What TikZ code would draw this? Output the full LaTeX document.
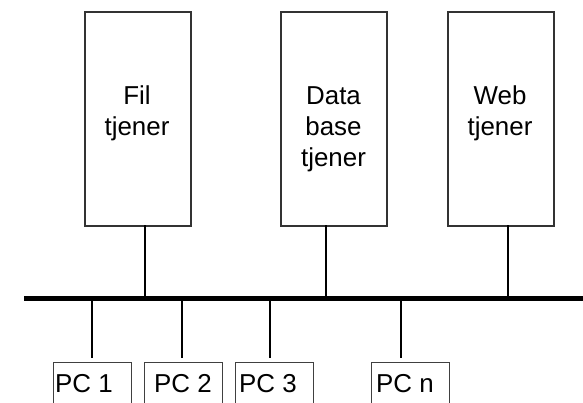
\documentclass[tikz,border=0pt]{standalone}
\usepackage{fontspec}
\setmainfont{Liberation Sans}
\begin{document}
\begin{tikzpicture}[x=1bp,y=-1bp,
  server/.style={draw=black!80, line width=1.5bp, minimum width=106bp, minimum height=214bp, inner sep=0pt, anchor=north west},
  pcbox/.style={draw=black!75, line width=1bp, minimum width=78bp, minimum height=60bp, inner sep=0pt, anchor=north west},
  lbl/.style={font=\fontsize{26}{31}\selectfont, align=center, anchor=base, inner sep=0pt},
  pclbl/.style={font=\fontsize{26}{31}\selectfont, anchor=base west, inner sep=0pt},
  wire/.style={draw=black, line width=1.6bp},
  bus/.style={draw=black, line width=5bp}]
\useasboundingbox (0,0) rectangle (583,402);
\clip (0,0) rectangle (583,402);
% servers
\node[server] (fil) at (84,11) {};
\node[server] (db) at (280,11) {};
\node[server] (web) at (447,11) {};
\node[lbl] (filt) at (137,135) {Fil\\tjener};
\node[lbl] (dbt) at (333.5,166) {Data\\base\\tjener};
\node[lbl] (webt) at (500,135) {Web\\tjener};
% bus
\coordinate (busL) at (24,298.5);
\coordinate (busR) at (583,298.5);
\draw[bus] (busL) -- (busR);
% server connectors
\coordinate (filc) at (145,225);
\coordinate (dbc) at (326,225);
\coordinate (webc) at (508,225);
\draw[wire] (filc) -- (filc |- busL);
\draw[wire] (dbc) -- (dbc |- busL);
\draw[wire] (webc) -- (webc |- busL);
% PCs
\node[pcbox] (pc1) at (53,362) {};
\node[pcbox] (pc2) at (144,362) {};
\node[pcbox] (pc3) at (235,362) {};
\node[pcbox] (pcn) at (371,362) {};
\node[pclbl] (pc1t) at (55,392) {PC 1};
\node[pclbl] (pc2t) at (154,392) {PC 2};
\node[pclbl] (pc3t) at (239,392) {PC 3};
\node[pclbl] (pcnt) at (376,392) {PC n};
\coordinate (pc1c) at (92,358);
\coordinate (pc2c) at (182,358);
\coordinate (pc3c) at (270,358);
\coordinate (pcnc) at (401,358);
\draw[wire] (pc1c |- busL) -- (pc1c);
\draw[wire] (pc2c |- busL) -- (pc2c);
\draw[wire] (pc3c |- busL) -- (pc3c);
\draw[wire] (pcnc |- busL) -- (pcnc);
\end{tikzpicture}
\end{document}
